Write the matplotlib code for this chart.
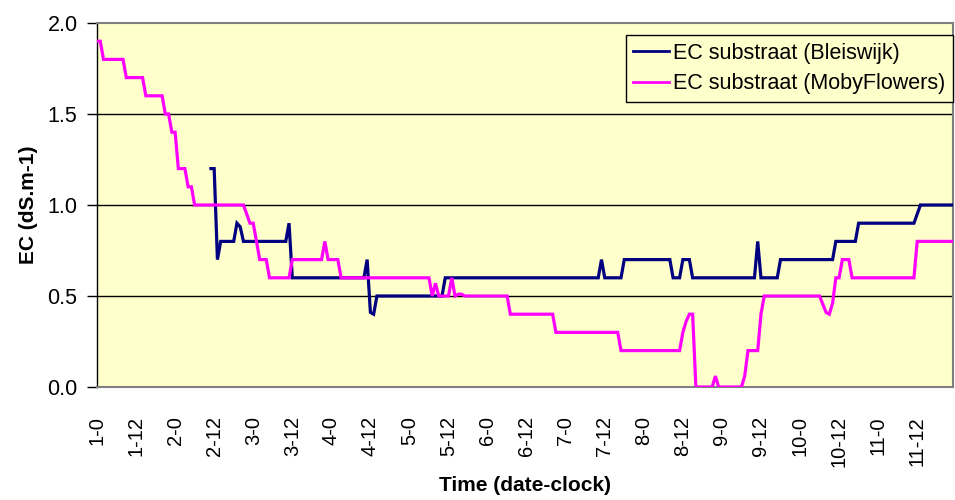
import matplotlib
matplotlib.use("Agg")
import matplotlib.pyplot as plt

plt.rcParams["font.family"] = ["Liberation Sans", "DejaVu Sans"]

# Time axis in hours since day 1, 00:00; labels every 12 hours as "day-hour"
tick_hours = list(range(0, 264, 12))
tick_labels = ["1-0", "1-12", "2-0", "2-12", "3-0", "3-12", "4-0", "4-12",
               "5-0", "5-12", "6-0", "6-12", "7-0", "7-12", "8-0", "8-12",
               "9-0", "9-12", "10-0", "10-12", "11-0", "11-12"]

# EC substraat, Bleiswijk (hour, dS/m)
bleiswijk_hours = [35, 36, 37, 38, 42, 43, 44, 45, 58, 59, 60, 82, 83, 84, 85,
                   86, 106, 107, 154, 155, 156, 161, 162, 176, 177, 179, 180,
                   182, 183, 202, 203, 204, 209, 210, 226, 227, 233, 234, 251,
                   252, 253, 263]
bleiswijk_ec = [1.2, 1.2, 0.7, 0.8, 0.8, 0.9, 0.88, 0.8, 0.8, 0.9, 0.6, 0.6,
                0.7, 0.41, 0.4, 0.5, 0.5, 0.6, 0.6, 0.7, 0.6, 0.6, 0.7, 0.7,
                0.6, 0.6, 0.7, 0.7, 0.6, 0.6, 0.8, 0.6, 0.6, 0.7, 0.7, 0.8,
                0.8, 0.9, 0.9, 0.95, 1.0, 1.0]

# EC substraat, MobyFlowers (hour, dS/m)
moby_hours = [0, 1, 2, 8, 9, 14, 15, 20, 21, 22, 23, 24, 25, 27, 28, 29, 30,
              45, 46, 47, 48, 49, 50, 52, 53, 59, 60, 69, 70, 71, 74, 75, 102,
              103, 104, 105, 108, 109, 110, 111, 112, 113, 126, 127, 140, 141,
              160, 161, 179, 180, 181, 182, 183, 184, 189, 190, 191, 198, 199,
              200, 203, 204, 205, 222, 224, 225, 226, 227, 228, 229, 231, 232,
              251, 252, 263]
moby_ec = [1.9, 1.9, 1.8, 1.8, 1.7, 1.7, 1.6, 1.6, 1.5, 1.5, 1.4, 1.4, 1.2,
           1.2, 1.1, 1.1, 1.0, 1.0, 0.95, 0.9, 0.9, 0.8, 0.7, 0.7, 0.6, 0.6,
           0.7, 0.7, 0.8, 0.7, 0.7, 0.6, 0.6, 0.5, 0.57, 0.5, 0.5, 0.6, 0.5,
           0.51, 0.51, 0.5, 0.5, 0.4, 0.4, 0.3, 0.3, 0.2, 0.2, 0.3, 0.36, 0.4,
           0.4, 0.0, 0.0, 0.06, 0.0, 0.0, 0.06, 0.2, 0.2, 0.4, 0.5, 0.5, 0.41,
           0.4, 0.46, 0.6, 0.6, 0.7, 0.7, 0.6, 0.6, 0.8, 0.8]

W, H, DPI = 955, 500, 100
FS = 15.5
fig = plt.figure(figsize=(W / DPI, H / DPI), dpi=DPI)
fig.patch.set_facecolor("white")

left, right, top, bottom = 97, 953, 23, 387
ax = fig.add_axes([left / W, 1 - bottom / H, (right - left) / W, (bottom - top) / H])
ax.set_facecolor("#FFFFCC")

ax.plot(bleiswijk_hours, bleiswijk_ec, color="#000080", lw=2.3,
        label="EC substraat (Bleiswijk)", zorder=3, solid_joinstyle="miter")
ax.plot(moby_hours, moby_ec, color="#FF00FF", lw=2.3,
        label="EC substraat (MobyFlowers)", zorder=4, solid_joinstyle="miter")

ax.set_xlim(0, 263)
ax.set_ylim(0, 2.0)

ax.set_yticks([0.0, 0.5, 1.0, 1.5, 2.0])
ax.set_yticklabels(["0.0", "0.5", "1.0", "1.5", "2.0"])
ax.set_xticks(tick_hours)
ax.set_xticklabels(tick_labels, rotation=90, va="top", ha="center")

ax.tick_params(axis="y", direction="out", length=7, width=1, pad=7,
               labelsize=FS, colors="black")
ax.tick_params(axis="x", length=0, pad=21, labelsize=14.5)

for yv in [0.5, 1.0, 1.5]:
    ax.axhline(yv, color="black", lw=1, zorder=1)

for side in ["top", "right", "bottom"]:
    ax.spines[side].set_color("#808080")
    ax.spines[side].set_linewidth(1.5)
ax.spines["left"].set_color("black")
ax.spines["left"].set_linewidth(1)

ax.set_ylabel("EC (dS.m-1)", fontsize=15, fontweight="bold", labelpad=7)
ax.set_xlabel("Time (date-clock)", fontsize=15, fontweight="bold", labelpad=6)

leg = ax.legend(loc="upper right", bbox_to_anchor=(953 / W, 1 - 35 / H),
                bbox_transform=fig.transFigure, fontsize=FS, frameon=True,
                fancybox=False, framealpha=1, edgecolor="black",
                facecolor="#FFFFCC", handlelength=1.65, handletextpad=0.2,
                labelspacing=0.45, borderpad=0.35, borderaxespad=0)
leg.get_frame().set_linewidth(1)
for line in leg.get_lines():
    line.set_linewidth(2)

fig.savefig("out.png", dpi=DPI)
